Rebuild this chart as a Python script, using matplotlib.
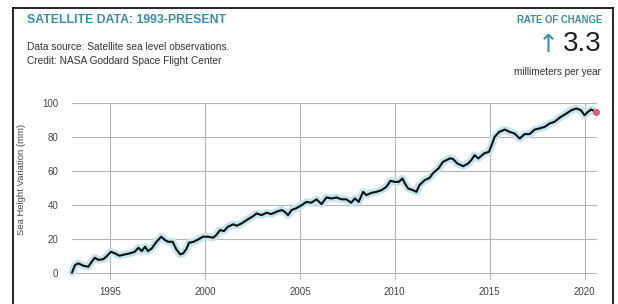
import matplotlib
matplotlib.use("Agg")
import matplotlib.pyplot as plt
from matplotlib.lines import Line2D

# values (year, sea height variation in mm)
years = [
    1993.00, 1993.16, 1993.33, 1993.60, 1993.86, 1994.04, 1994.20, 1994.40,
    1994.65, 1994.80, 1995.05, 1995.26, 1995.50, 1995.80, 1996.05, 1996.30,
    1996.50, 1996.67, 1996.85, 1997.00, 1997.20, 1997.45, 1997.70, 1997.90,
    1998.07, 1998.30, 1998.50, 1998.70, 1998.86, 1999.04, 1999.16, 1999.40,
    1999.65, 1999.90, 2000.17, 2000.44, 2000.60, 2000.80, 2001.00, 2001.20,
    2001.50, 2001.67, 2001.93, 2002.20, 2002.54, 2002.72, 2002.98, 2003.25,
    2003.50, 2003.77, 2004.04, 2004.20, 2004.38, 2004.56, 2004.80, 2005.10,
    2005.35, 2005.60, 2005.88, 2006.14, 2006.40, 2006.67, 2006.93, 2007.20,
    2007.45, 2007.70, 2007.90, 2008.10, 2008.33, 2008.50, 2008.77, 2009.03,
    2009.30, 2009.56, 2009.77, 2010.00, 2010.22, 2010.40, 2010.53, 2010.70,
    2010.96, 2011.14, 2011.30, 2011.58, 2011.84, 2012.00, 2012.30, 2012.54,
    2012.90, 2013.05, 2013.30, 2013.60, 2013.86, 2014.03, 2014.20, 2014.40,
    2014.70, 2014.96, 2015.10, 2015.26, 2015.50, 2015.80, 2016.05, 2016.30,
    2016.58, 2016.84, 2017.10, 2017.37, 2017.60, 2017.90, 2018.16, 2018.40,
    2018.70, 2019.03, 2019.30, 2019.56, 2019.80, 2020.00, 2020.17, 2020.35,
    2020.58,
]
sea_mm = [
    0.0, 4.4, 5.4, 4.0, 3.4, 6.4, 8.7, 7.4,
    7.9, 9.3, 12.2, 11.3, 9.9, 10.7, 11.3, 12.2,
    14.6, 12.6, 15.2, 12.6, 14.2, 18.1, 21.1, 19.1,
    18.1, 18.1, 13.6, 10.7, 11.3, 14.2, 17.5, 18.1,
    19.5, 21.1, 21.1, 20.5, 22.1, 25.0, 24.4, 26.9,
    28.4, 27.5, 28.9, 30.9, 33.2, 34.8, 33.8, 35.2,
    34.4, 35.8, 36.8, 35.8, 33.8, 36.8, 37.8, 39.7,
    41.6, 41.1, 43.1, 40.3, 44.2, 43.6, 44.2, 43.1,
    43.1, 41.1, 43.6, 41.6, 47.5, 45.6, 46.9, 47.5,
    48.5, 50.5, 54.0, 53.4, 53.4, 55.4, 52.5, 49.5,
    48.5, 47.5, 51.5, 54.4, 55.8, 58.4, 61.3, 65.2,
    67.2, 67.0, 64.2, 62.6, 64.2, 66.2, 69.1, 67.2,
    70.1, 71.1, 75.0, 79.9, 82.8, 84.2, 82.8, 81.9,
    78.9, 81.5, 81.5, 84.2, 84.8, 85.8, 87.8, 88.7,
    91.3, 93.6, 95.6, 96.6, 95.6, 92.6, 94.6, 96.0,
    94.6,
]
x_ticks = [1995, 2000, 2005, 2010, 2015, 2020]
y_ticks = [0, 20, 40, 60, 80, 100]

TEAL = "#3a8ca2"
W, H = 618, 304

plt.rcParams["font.family"] = ["Liberation Sans", "DejaVu Sans"]

fig = plt.figure(figsize=(W / 100, H / 100), dpi=100)
ax = fig.add_axes([72 / W, 24 / H, 525 / W, 177.3 / H])

# halo + line
ax.plot(years, sea_mm, color="#c6e4ee", lw=5.5, solid_capstyle="round", zorder=2, clip_on=False)
ax.plot(years, sea_mm, color="#111111", lw=1.5, zorder=3, clip_on=False)
ax.plot(years[-1], sea_mm[-1], "o", color="#e0607a", ms=4, zorder=4, clip_on=False)

ax.set_xlim(1993.0, 2020.65)
ax.set_ylim(-4.4, 100)
ax.set_xticks(x_ticks)
ax.set_yticks(y_ticks)
ax.grid(True, color="#b5b5b5", lw=0.8)
ax.set_axisbelow(True)
for s in ax.spines.values():
    s.set_visible(False)
ax.tick_params(length=0, labelsize=7, colors="#444444")
ax.tick_params(axis="y", pad=10)
ax.tick_params(axis="x", pad=5)
ax.set_ylabel("Sea Height Variation (mm)", fontsize=6.8, color="#444444")
ax.yaxis.set_label_coords(-0.087, 0.565)

# header texts
fig.text(27 / W, 1 - 20 / H, "SATELLITE DATA: 1993-PRESENT", fontsize=8.8,
         fontweight="bold", color=TEAL, va="center", ha="left")
fig.text(27 / W, 1 - 47 / H, "Data source: Satellite sea level observations.",
         fontsize=7.3, color="#333333", va="center", ha="left")
fig.text(27 / W, 1 - 61 / H, "Credit: NASA Goddard Space Flight Center",
         fontsize=7.3, color="#333333", va="center", ha="left")

fig.text(602 / W, 1 - 20 / H, "RATE OF CHANGE", fontsize=6.9, fontweight="bold",
         color=TEAL, va="center", ha="right")
fig.text(602 / W, 1 - 44 / H, "3.3", fontsize=20, color="#222222",
         va="center", ha="right")
fig.text(548 / W, 1 - 45 / H, "\u2191", fontsize=18, color=TEAL,
         va="center", ha="center", family=["DejaVu Sans"])
fig.text(601 / W, 1 - 72 / H, "millimeters per year", fontsize=7.2,
         color="#333333", va="center", ha="right")

# black frame around the card (left, top, right)
fx0, fx1, fy = 12.5 / W, 612.5 / W, 1 - 7.5 / H
fig.add_artist(Line2D([fx0, fx0], [0, fy], color="black", lw=1.2, transform=fig.transFigure))
fig.add_artist(Line2D([fx0, fx1], [fy, fy], color="black", lw=1.2, transform=fig.transFigure))
fig.add_artist(Line2D([fx1, fx1], [0, fy], color="black", lw=1.2, transform=fig.transFigure))

fig.savefig("out.png", dpi=100)
